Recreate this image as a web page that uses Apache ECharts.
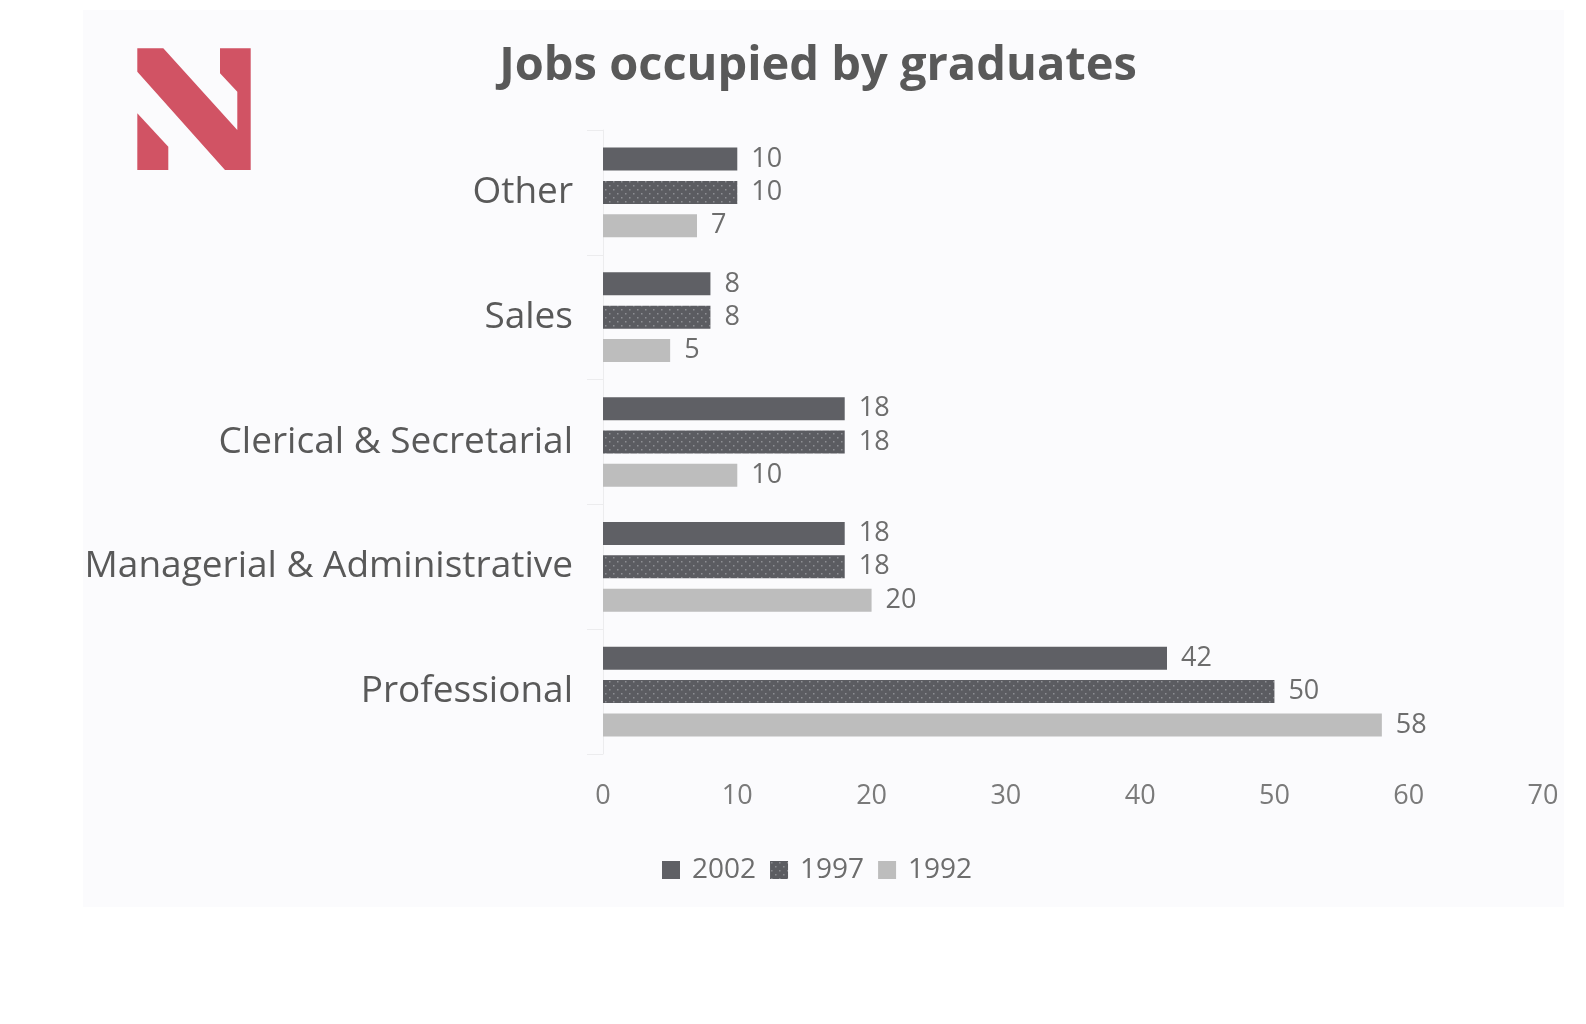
<!DOCTYPE html>
<html>
<head>
<meta charset="utf-8">
<script src="https://cdn.jsdelivr.net/npm/echarts@6/dist/echarts.min.js"></script>
<style>
html,body{margin:0;padding:0;background:#ffffff;}
#chart{width:1586px;height:1024px;}
</style>
</head>
<body>
<div id="chart"></div>
<script>
const categories = ['Professional', 'Managerial & Administrative', 'Clerical & Secretarial', 'Sales', 'Other'];
const values2002 = [42, 18, 18, 8, 10];
const values1997 = [50, 18, 18, 8, 10];
const values1992 = [58, 20, 10, 5, 7];
const xTicks = [0, 10, 20, 30, 40, 50, 60, 70];

// dotted pattern for 1997
const pc = document.createElement('canvas');
pc.width = 8; pc.height = 8;
const pctx = pc.getContext('2d');
pctx.fillStyle = '#5b5c61';
pctx.fillRect(0, 0, 8, 8);
pctx.fillStyle = '#8d8e93';
pctx.fillRect(1, 1, 1.5, 1.5);
pctx.fillRect(5, 5, 1.5, 1.5);
const dotted = { image: pc, repeat: 'repeat' };

const textColor = '#595959';
const font = 'Open Sans';
const valueLabel = { show: true, position: 'right', distance: 14, fontFamily: font, fontSize: 27, color: '#6d6d6d' };

const chart = echarts.init(document.getElementById('chart'), null, { renderer: 'canvas' });
chart.setOption({
  backgroundColor: '#ffffff',
  animation: false,
  graphic: [
    { type: 'rect', z: -10, shape: { x: 83, y: 10, width: 1481, height: 897 }, style: { fill: '#fbfbfd' } },
    { type: 'polygon', shape: { points: [[137.3,48.3],[163.3,48.3],[237.3,130],[237.3,91.7],[220,73.3],[220,48.3],[250.7,48.3],[250.7,170],[225,170],[137.3,71.7]] }, style: { fill: '#d15364' } },
    { type: 'polygon', shape: { points: [[137.3,113.3],[168.3,146.7],[168.3,170],[137.3,170]] }, style: { fill: '#d15364' } }
  ],
  title: {
    text: 'Jobs occupied by graduates',
    left: 813, top: 38, textAlign: 'center',
    textStyle: { fontFamily: font, fontSize: 47, fontWeight: 'bold', color: textColor }
  },
  legend: {
    data: ['2002', '1997', '1992'],
    left: 657, top: 851, itemWidth: 18, itemHeight: 18, itemGap: 14,
    icon: 'rect',
    textStyle: { fontFamily: font, fontSize: 28, color: '#6d6d6d', padding: [0, 0, 0, 7] }
  },
  grid: { left: 603, right: 43, top: 130, bottom: 270, containLabel: false },
  xAxis: {
    type: 'value', min: 0, max: 70, interval: 10,
    axisLine: { show: false }, axisTick: { show: false },
    splitLine: { show: false },
    axisLabel: { margin: 29, fontFamily: font, fontSize: 27, color: '#7a7a7a' }
  },
  yAxis: {
    type: 'category', data: categories,
    axisLine: { show: true, lineStyle: { color: '#ececee', width: 1 } },
    axisTick: { show: true, length: 16, lineStyle: { color: '#ececee' } },
    axisLabel: { margin: 30, fontFamily: font, fontSize: 37, color: textColor }
  },
  series: [
    { name: '2002', type: 'bar', data: values2002, barWidth: 23, barGap: '45%',
      itemStyle: { color: '#5f6065' }, label: valueLabel },
    { name: '1997', type: 'bar', data: values1997, barWidth: 23, barGap: '45%',
      itemStyle: { color: dotted }, label: valueLabel },
    { name: '1992', type: 'bar', data: values1992, barWidth: 23, barGap: '45%',
      itemStyle: { color: '#bdbdbd' }, label: valueLabel }
  ]
});
</script>
</body>
</html>
